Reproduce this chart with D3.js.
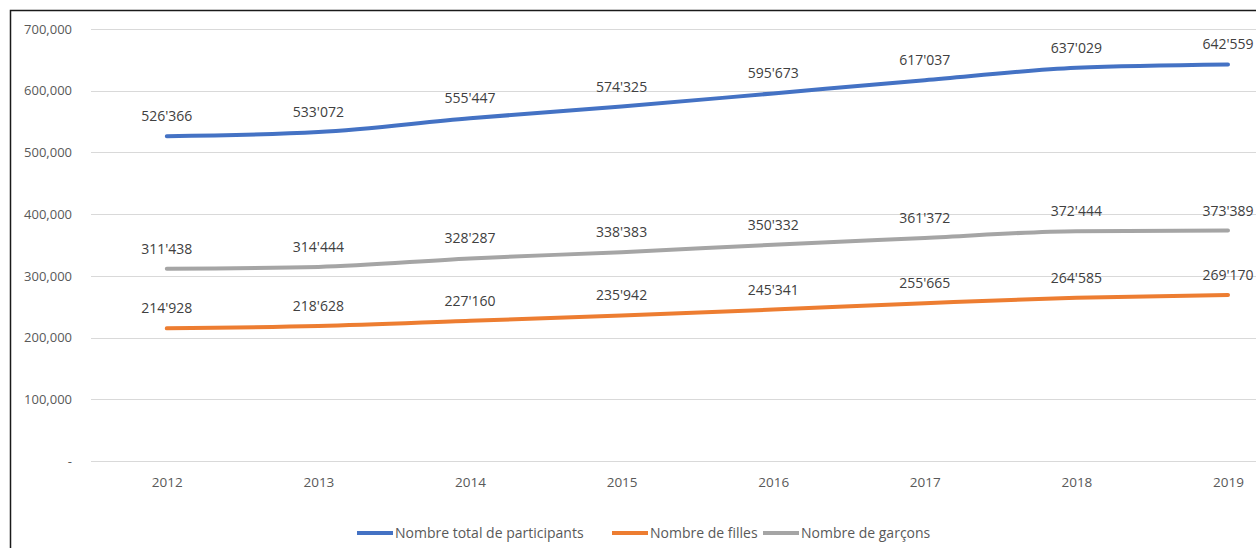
<!DOCTYPE html>
<html>
<head>
<meta charset="utf-8">
<script src="https://cdn.jsdelivr.net/npm/d3@7"></script>
<style>
  body { margin: 0; background: #fff; }
  svg text { font-family: "Open Sans", "Noto Sans", sans-serif; }
</style>
</head>
<body>
<svg width="1256" height="548"></svg>
<script>
const years = ["2012", "2013", "2014", "2015", "2016", "2017", "2018", "2019"];
const totalParticipants = [526366, 533072, 555447, 574325, 595673, 617037, 637029, 642559];
const filles = [214928, 218628, 227160, 235942, 245341, 255665, 264585, 269170];
const garcons = [311438, 314444, 328287, 338383, 350332, 361372, 372444, 373389];
const yTicks = [0, 100000, 200000, 300000, 400000, 500000, 600000, 700000];
const seriesNames = ["Nombre total de participants", "Nombre de filles", "Nombre de garçons"];

const colours = ["#4472c4", "#ed7d31", "#a5a5a5"];

const series = [
  { name: seriesNames[0], values: totalParticipants, colour: colours[0] },
  { name: seriesNames[1], values: filles, colour: colours[1] },
  { name: seriesNames[2], values: garcons, colour: colours[2] }
];

const svg = d3.select('svg');
const width = +svg.attr('width');
const height = +svg.attr('height');

// plot area runs off the right edge, as in the cropped original
const margin = { top: 29, left: 91, bottom: 87 };
const bandStep = 151.6;

const xScale = d3.scalePoint()
    .domain(years)
    .range([margin.left + bandStep / 2, margin.left + bandStep / 2 + bandStep * (years.length - 1)]);

const yScale = d3.scaleLinear()
    .domain([0, 700000])
    .range([height - margin.bottom, margin.top]);

const labelFmt = d3.formatLocale({ decimal: ".", thousands: "'", grouping: [3], currency: ["", ""] }).format(",");
const axisFmt = d3.format(",");

// outer frame
svg.append('rect')
    .attr('x', 10.5)
    .attr('y', 10.5)
    .attr('width', 1400)
    .attr('height', 700)
    .attr('fill', 'none')
    .attr('stroke', '#1a1a1a')
    .attr('stroke-width', 1.5);

// gridlines
svg.append('g')
    .selectAll('line').data(yTicks).enter()
    .append('line')
    .attr('x1', margin.left)
    .attr('x2', width)
    .attr('y1', d => Math.round(yScale(d)) + 0.5)
    .attr('y2', d => Math.round(yScale(d)) + 0.5)
    .attr('stroke', '#d9d9d9')
    .attr('stroke-width', 1);

// y axis labels
const yAxis = d3.axisLeft(yScale)
    .tickValues(yTicks)
    .tickSize(0)
    .tickPadding(0)
    .tickFormat(d => d === 0 ? '-' : axisFmt(d));

svg.append('g')
    .attr('transform', 'translate(72, 0)')
    .call(yAxis)
    .call(g => g.select('.domain').remove())
    .selectAll('text')
    .attr('fill', '#595959')
    .style('font-size', '13px');

// x axis labels
const xAxis = d3.axisBottom(xScale).tickSize(0).tickPadding(0);

svg.append('g')
    .attr('transform', 'translate(0, ' + (height - margin.bottom + 16) + ')')
    .call(xAxis)
    .call(g => g.select('.domain').remove())
    .selectAll('text')
    .attr('fill', '#595959')
    .style('font-size', '13.5px');

const line = d3.line()
    .x((d, i) => xScale(years[i]))
    .y(d => yScale(d))
    .curve(d3.curveMonotoneX);

// draw in order gray, orange, blue so the total sits on top
[series[2], series[1], series[0]].forEach(s => {
    svg.append('path')
        .datum(s.values)
        .attr('d', line)
        .attr('fill', 'none')
        .attr('stroke', s.colour)
        .attr('stroke-width', 4)
        .attr('stroke-linecap', 'round');
});

series.forEach(s => {
    svg.append('g')
        .selectAll('text').data(s.values).enter()
        .append('text')
        .attr('x', (d, i) => xScale(years[i]))
        .attr('y', d => yScale(d) - 15)
        .attr('text-anchor', 'middle')
        .attr('fill', '#404040')
        .style('font-size', '14px')
        .text(d => labelFmt(d));
});

// legend
const legendPos = [357, 612, 763];
const legend = svg.append('g').attr('transform', 'translate(0, 533)');

legend.selectAll('line').data(series).enter()
    .append('line')
    .attr('x1', (d, i) => legendPos[i])
    .attr('x2', (d, i) => legendPos[i] + 36)
    .attr('y1', 0)
    .attr('y2', 0)
    .attr('stroke', d => d.colour)
    .attr('stroke-width', 4);

legend.selectAll('text').data(series).enter()
    .append('text')
    .attr('x', (d, i) => legendPos[i] + 38)
    .attr('y', 0)
    .attr('dy', '0.35em')
    .attr('fill', '#595959')
    .style('font-size', '14px')
    .text(d => d.name);
</script>
</body>
</html>
